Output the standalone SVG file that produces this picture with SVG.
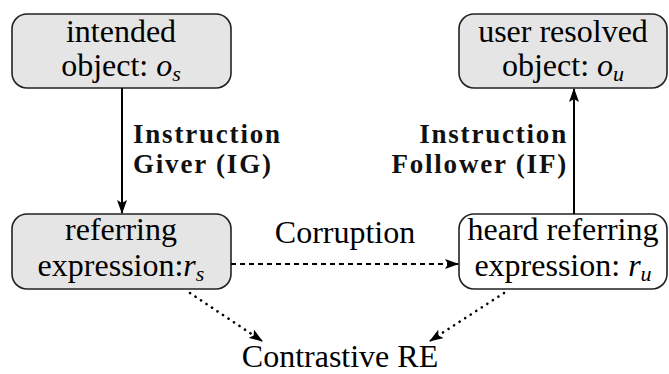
<svg xmlns="http://www.w3.org/2000/svg" width="669" height="374" viewBox="0 0 669 374">
<style>
.box{stroke:#222;stroke-width:1.6}
.grey{fill:#e5e5e5}
.white{fill:#fff}
.t{font-size:32px;fill:#000;text-anchor:middle}
.m{font-style:italic}
.lab{font-size:27px;font-weight:bold;fill:#111;letter-spacing:1.8px}
.ln{stroke:#000;stroke-width:2;fill:none}
.dot{stroke:#000;stroke-width:2.6;fill:none;stroke-dasharray:0.1,6.5;stroke-linecap:round}
</style>
<defs>
<marker id="ah" viewBox="0 0 14 10" refX="13" refY="5" markerWidth="14" markerHeight="10" markerUnits="userSpaceOnUse" orient="auto">
<path d="M0,0 L14,5 L0,10 L3,5 Z" fill="#000"/>
</marker>
</defs>
<g font-family="Liberation Serif, Tinos, Times New Roman, Noto Serif, DejaVu Serif, serif">
<g id="intended">
<rect class="box grey" x="12" y="14" width="219" height="74" rx="15"/>
<text class="t" x="121" y="42">intended</text>
<text class="t" x="121" y="76">object: <tspan class="m">o</tspan><tspan class="m" font-size="22" dy="5">s</tspan></text>
</g>
<g id="resolved">
<rect class="box grey" x="459" y="14" width="208" height="74" rx="15"/>
<text class="t" x="563" y="42">user resolved</text>
<text class="t" x="563" y="76">object: <tspan class="m">o</tspan><tspan class="m" font-size="22" dy="5">u</tspan></text>
</g>
<g id="referring">
<rect class="box grey" x="12" y="214" width="219" height="75" rx="15"/>
<text class="t" x="121" y="240">referring</text>
<text class="t" x="121" y="276">expression:<tspan class="m">r</tspan><tspan class="m" font-size="22" dy="5">s</tspan></text>
</g>
<g id="heard">
<rect class="box white" x="459" y="214" width="208" height="75" rx="15"/>
<text class="t" x="563" y="240">heard referring</text>
<text class="t" x="563" y="276">expression: <tspan class="m">r</tspan><tspan class="m" font-size="22" dy="5">u</tspan></text>
</g>
<g id="contrastive">
<text class="t" x="340" y="367">Contrastive RE</text>
</g>
<g id="connectors">
<line class="ln" x1="122" y1="88" x2="122" y2="213" marker-end="url(#ah)"/>
<text class="lab" x="133" y="143">Instruction<tspan x="133" dy="30">Giver (IG)</tspan></text>
<line class="ln" x1="574" y1="214" x2="574" y2="89" marker-end="url(#ah)"/>
<text class="lab" x="568" y="143" text-anchor="end">Instruction<tspan x="568" dy="30">Follower (IF)</tspan></text>
<line class="ln" x1="231" y1="264" x2="458" y2="264" stroke-dasharray="5,4" marker-end="url(#ah)"/>
<text class="t" x="345" y="243">Corruption</text>
<line class="dot" x1="190" y1="293" x2="256" y2="337"/>
<line class="ln" x1="255" y1="336.3" x2="262" y2="341" marker-end="url(#ah)"/>
<line class="dot" x1="504" y1="293" x2="436" y2="337"/>
<line class="ln" x1="437" y1="336.5" x2="430" y2="341" marker-end="url(#ah)"/>
</g>
</g>
</svg>
